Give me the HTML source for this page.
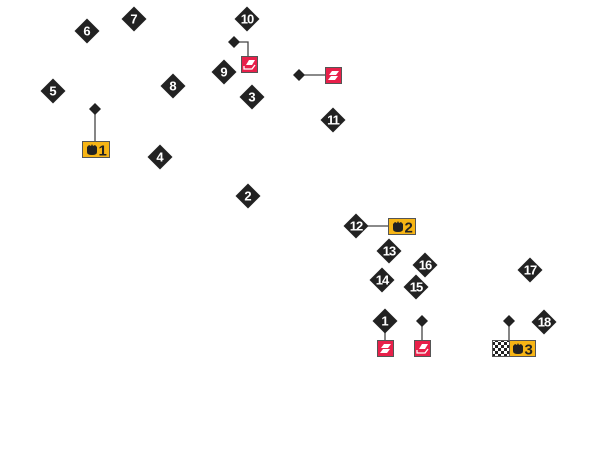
<!DOCTYPE html>
<html><head><meta charset="utf-8"><style>
html,body{margin:0;padding:0;background:#fff;width:600px;height:475px;overflow:hidden}
svg{display:block}
text{font-family:"Liberation Sans",sans-serif;font-weight:bold}
</style></head><body>
<svg width="600" height="475" viewBox="0 0 600 475" xmlns="http://www.w3.org/2000/svg">
<defs>
<g id="big"><polygon points="0,-12.5 12.5,0 0,12.5 -12.5,0" fill="#222"/></g>
<g id="sm"><polygon points="0,-6 6,0 0,6 -6,0" fill="#222"/></g>
<g id="red"><rect x="0.5" y="0.5" width="16" height="16" fill="#e8204a" stroke="#555" stroke-width="1"/>
<polygon points="4,8 7,4 14,4 11,8" fill="#fff"/><polygon points="3,13 6,9 13,9 10,13" fill="#fff"/></g>
<g id="red2"><rect x="0.5" y="0.5" width="16" height="16" fill="#e8204a" stroke="#555" stroke-width="1"/>
<polygon points="5,9 8,4 14,4 11,9" fill="#fff"/><polyline points="3,10 3,13 11,13 14,9" fill="none" stroke="#fff" stroke-width="1.3"/></g>
<g id="pot"><path d="M-5,-3 L-3,-5 L-1,-4 L0,-6 L1,-4 L3,-5 L5,-3 L5,2 Q5,5 0,5 Q-5,5 -5,2 Z" fill="#222"/></g>
<pattern id="chk" width="6" height="6" patternUnits="userSpaceOnUse"><rect width="6" height="6" fill="#fff"/><rect width="3" height="3" fill="#222"/><rect x="3" y="3" width="3" height="3" fill="#222"/></pattern>
</defs>
<g stroke="#444" stroke-width="1.3" fill="none">
<line x1="95" y1="109" x2="95" y2="141"/>
<polyline points="234,42 248,42 248,57"/>
<line x1="299" y1="75" x2="325" y2="75"/>
<line x1="366" y1="226" x2="388" y2="226"/>
<line x1="385" y1="330" x2="385" y2="340"/>
<line x1="422" y1="321" x2="422" y2="340"/>
<line x1="509" y1="321" x2="509" y2="340"/>
</g>
<use href="#sm" x="95" y="109"/><use href="#sm" x="234" y="42"/><use href="#sm" x="299" y="75"/>
<use href="#sm" x="422" y="321"/><use href="#sm" x="509" y="321"/>
<g fill="#fff" font-size="13" text-anchor="middle">
<use href="#big" x="53" y="91"/><text x="53" y="95.5">5</text>
<use href="#big" x="87" y="31"/><text x="87" y="35.5">6</text>
<use href="#big" x="134" y="19"/><text x="134" y="23.5">7</text>
<use href="#big" x="247" y="19"/><text x="247" y="23.5" letter-spacing="-1">10</text>
<use href="#big" x="224" y="72"/><text x="224" y="76.5">9</text>
<use href="#big" x="173" y="86"/><text x="173" y="90.5">8</text>
<use href="#big" x="252" y="97"/><text x="252" y="101.5">3</text>
<use href="#big" x="333" y="120"/><text x="333" y="124.5" letter-spacing="-1">11</text>
<use href="#big" x="160" y="157"/><text x="160" y="161.5">4</text>
<use href="#big" x="248" y="196"/><text x="248" y="200.5">2</text>
<use href="#big" x="356" y="226"/><text x="356" y="230.5" letter-spacing="-1">12</text>
<use href="#big" x="389" y="251"/><text x="389" y="255.5" letter-spacing="-1">13</text>
<use href="#big" x="425" y="265"/><text x="425" y="269.5" letter-spacing="-1">16</text>
<use href="#big" x="382" y="280"/><text x="382" y="284.5" letter-spacing="-1">14</text>
<use href="#big" x="416" y="287"/><text x="416" y="291.5" letter-spacing="-1">15</text>
<use href="#big" x="530" y="270"/><text x="530" y="274.5" letter-spacing="-1">17</text>
<use href="#big" x="544" y="322"/><text x="544" y="326.5" letter-spacing="-1">18</text>
<use href="#big" x="385" y="321"/><text x="385" y="325.5">1</text>
</g>
<g font-size="15" fill="#222">
<rect x="82.5" y="141.5" width="27" height="16" fill="#f7b515" stroke="#555"/>
<use href="#pot" x="92" y="150"/><text x="98.5" y="155.5">1</text>
<rect x="388.5" y="218.5" width="27" height="16" fill="#f7b515" stroke="#555"/>
<use href="#pot" x="398" y="227"/><text x="404.5" y="232.5">2</text>
<rect x="492.5" y="340.5" width="17" height="16" fill="url(#chk)" stroke="#555"/>
<rect x="509.5" y="340.5" width="26" height="16" fill="#f7b515" stroke="#555"/>
<use href="#pot" x="518" y="349"/><text x="524.5" y="354.5">3</text>
</g>
<use href="#red2" x="241" y="56"/>
<use href="#red" x="325" y="67"/>
<use href="#red" x="377" y="340"/>
<use href="#red2" x="414" y="340"/>
</svg>
</body></html>
